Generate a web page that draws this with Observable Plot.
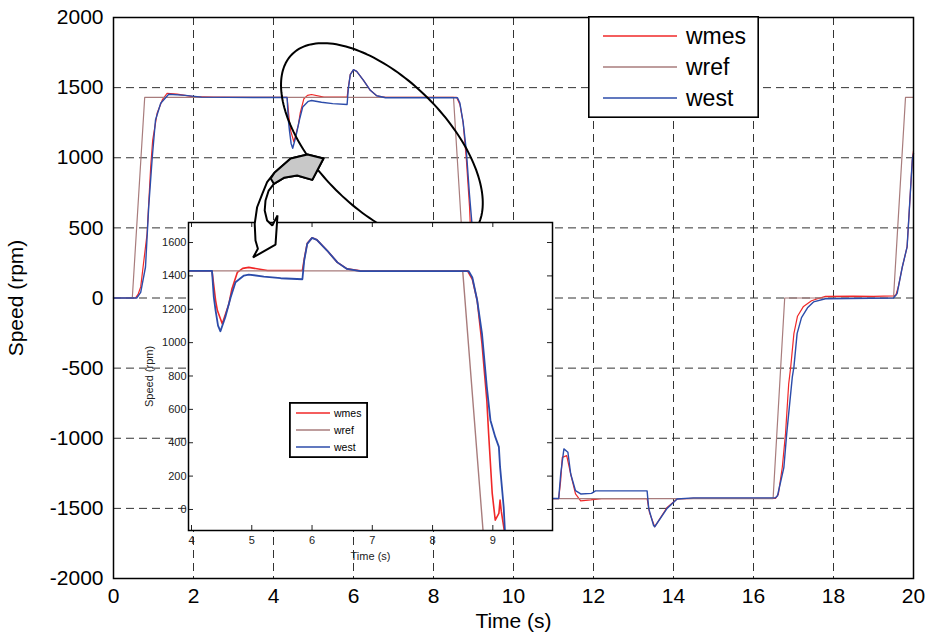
<!DOCTYPE html>
<html><head><meta charset="utf-8">
<script src="https://cdn.jsdelivr.net/npm/d3@7"></script>
<script src="https://cdn.jsdelivr.net/npm/@observablehq/plot@0.6"></script>
<style>
html,body{margin:0;padding:0;background:#fff;}
#wrap{position:relative;width:932px;height:638px;overflow:hidden;font-family:"Liberation Sans",Arial,sans-serif;}
#wrap > *{position:absolute;}
</style></head><body><div id="wrap"></div>
<script>
// ---------- data ----------
const seriesNames = ["wmes", "wref", "west"];
const seriesColors = {wmes: "#f02828", wref: "#a87c7c", west: "#2c4caa"};

const tRef = [0, 0.47, 0.78, 8.50, 9.12, 16.49, 16.78, 19.50, 19.80, 20];
const wref = [0, 0, 1430, 1430, -1430, -1430, 0, 0, 1430, 1430];

const tMes = [0, 0.55, 0.62, 0.68, 0.76, 0.84, 0.93, 0.98, 1.09, 1.22, 1.34, 1.59, 1.98, 2.5, 3.5,
  4.34, 4.40, 4.43, 4.51, 4.62, 4.67, 4.76, 4.85, 4.95, 5.26, 5.5, 5.84,
  5.87, 5.92, 6.00, 6.08, 6.25, 6.42, 6.58, 6.80, 7.5, 8.58,
  8.66, 8.74, 8.82, 8.90, 8.93, 8.99, 9.04, 9.10, 9.12, 9.14, 9.19, 9.30, 9.45, 9.60, 9.80, 10.2,
  11.13, 11.18, 11.22, 11.33, 11.43, 11.55, 11.68, 11.93, 12.2, 13.34,
  13.40, 13.53, 13.84, 14.09, 14.5, 16.55,
  16.62, 16.72, 16.80, 16.88, 16.93, 17.01, 17.10, 17.25, 17.45, 17.60, 17.80, 18.5, 19.0, 19.5,
  19.56, 19.62, 19.72, 19.84, 19.93, 19.97, 20];
const wmes = [0, 0, 30, 79, 269, 460, 936, 1126, 1317, 1412, 1460, 1453, 1436, 1432, 1430,
  1430, 1252, 1192, 1113, 1232, 1322, 1421, 1445, 1451, 1432, 1432, 1432,
  1500, 1595, 1628, 1616, 1552, 1481, 1442, 1430, 1430, 1430,
  1380, 1254, 994, 655, 455, 96, -64, -24, 56, -10, -126, -700, -1200, -1420, -1450, -1430,
  -1430, -1300, -1136, -1124, -1255, -1397, -1446, -1440, -1430, -1430,
  -1530, -1631, -1493, -1433, -1428, -1428,
  -1400, -1207, -969, -612, -493, -254, -130, -60, -20, -5, 12, 14, 12, 15,
  20, 80, 221, 364, 793, 984, 1050];

const tEst = [0, 0.58, 0.68, 0.80, 0.88, 0.97, 1.05, 1.18, 1.38, 1.80, 2.2, 3.5,
  4.34, 4.37, 4.40, 4.44, 4.48, 4.56, 4.65, 4.73, 4.87, 4.95, 5.20, 5.48, 5.84,
  5.87, 5.92, 6.00, 6.08, 6.25, 6.42, 6.58, 6.80, 8.60,
  8.66, 8.74, 8.82, 8.90, 8.96, 9.04, 9.10, 9.12, 9.15, 9.18, 9.20, 9.35, 9.50, 9.65, 9.90, 10.5,
  11.13, 11.18, 11.26, 11.36, 11.43, 11.55, 11.68, 11.95, 12.05, 13.34,
  13.38, 13.50, 13.53, 13.84, 14.09, 14.5, 16.55,
  16.60, 16.76, 16.83, 16.97, 17.01, 17.09, 17.20, 17.35, 17.50, 17.80, 19.5,
  19.59, 19.72, 19.84, 19.93, 19.97, 20];
const west = [0, 0, 40, 221, 650, 1007, 1269, 1389, 1453, 1445, 1432, 1430,
  1430, 1272, 1192, 1102, 1068, 1152, 1272, 1362, 1402, 1408, 1396, 1386, 1380,
  1492, 1592, 1628, 1616, 1552, 1481, 1442, 1428, 1428,
  1390, 1254, 1054, 735, 535, 435, 375, 255, 135, 15, -126, -800, -1250, -1400, -1440, -1430,
  -1430, -1255, -1076, -1100, -1255, -1374, -1397, -1393, -1375, -1375,
  -1500, -1620, -1631, -1500, -1433, -1425, -1425,
  -1410, -1207, -969, -564, -493, -254, -140, -70, -28, -5, 0,
  31, 221, 364, 793, 984, 1030];

const xTicks = [0, 2, 4, 6, 8, 10, 12, 14, 16, 18, 20];
const yTicks = [-2000, -1500, -1000, -500, 0, 500, 1000, 1500, 2000];
const xTicksIn = [4, 5, 6, 7, 8, 9];
const yTicksIn = [0, 200, 400, 600, 800, 1000, 1200, 1400, 1600];

// annotation shapes (main-chart units: s, rpm)
const arrowT = [5.25, 4.85, 4.43, 4.03, 3.84, 3.72, 3.59, 3.53, 3.55, 3.61, 3.49, 4.05, 4.10, 3.97, 3.84, 3.78, 3.80, 3.88, 4.01, 4.26, 4.59, 4.97, 5.25];
const arrowV = [995, 1023, 995, 895, 826, 743, 647, 529, 410, 351, 289, 381, 588, 517, 553, 624, 695, 766, 814, 857, 873, 842, 995];
const grayT = [5.25, 4.85, 4.43, 4.03, 3.93, 4.01, 4.26, 4.59, 4.97, 5.25];
const grayV = [995, 1023, 995, 895, 852, 814, 857, 873, 842, 995];
const ellipseCenter = [6.71, 1098]; // s, rpm
const ellipseAxesPx = [127, 65];     // semi-axes in px
const ellipseAngle = 45;             // degrees

// ---------- layout ----------
const FONT = '"Liberation Sans", Arial, Helvetica, sans-serif';
const W = 932, H = 638, mL = 113, mR = 19, mT = 17, mB = 60;
const xDom = [0, 20], yDom = [-2000, 2000];
const kx = (W - mL - mR) / (xDom[1] - xDom[0]);
const ky = (H - mT - mB) / (yDom[1] - yDom[0]);

const toRows = (ts, vs) => ts.map((t, i) => ({t, v: vs[i]}));
const ref = toRows(tRef, wref), mes = toRows(tMes, wmes), est = toRows(tEst, west);

const ell = [];
{
  const th = ellipseAngle * Math.PI / 180, [a, b] = ellipseAxesPx;
  for (let i = 0; i <= 180; i++) {
    const s = (i / 180) * 2 * Math.PI;
    const dx = a * Math.cos(s) * Math.cos(th) - b * Math.sin(s) * Math.sin(th);
    const dy = a * Math.cos(s) * Math.sin(th) + b * Math.sin(s) * Math.cos(th);
    ell.push({t: ellipseCenter[0] + dx / kx, v: ellipseCenter[1] - dy / ky});
  }
}

const wrap = document.getElementById("wrap");
const dash = "8,5";

const main = Plot.plot({
  width: W, height: H, marginLeft: mL, marginRight: mR, marginTop: mT, marginBottom: mB,
  style: {fontFamily: FONT, background: "white", color: "black"},
  x: {domain: xDom, axis: null},
  y: {domain: yDom, axis: null},
  marks: [
    Plot.ruleX(xTicks.slice(1, -1), {stroke: "#333", strokeDasharray: dash, strokeWidth: 1}),
    Plot.ruleY(yTicks.slice(1, -1), {stroke: "#333", strokeDasharray: dash, strokeWidth: 1}),
    Plot.line(mes, {x: "t", y: "v", stroke: seriesColors.wmes, strokeWidth: 1.2}),
    Plot.line(ref, {x: "t", y: "v", stroke: seriesColors.wref, strokeWidth: 1.2}),
    Plot.line(est, {x: "t", y: "v", stroke: seriesColors.west, strokeWidth: 1.4}),
    Plot.line(ell, {x: "t", y: "v", stroke: "black", strokeWidth: 2}),
    Plot.axisX({ticks: xTicks, tickSize: 0, tickPadding: 10, fontSize: 21, label: null, tickFormat: d => String(d)}),
    Plot.axisY({ticks: yTicks, tickSize: 0, tickPadding: 10, fontSize: 21, label: null, tickFormat: d => String(d)}),
    Plot.text(["Time (s)"], {frameAnchor: "bottom", dy: 43, fontSize: 21, textAnchor: "middle", lineAnchor: "middle", fill: "black"}),
    Plot.text(["Speed (rpm)"], {frameAnchor: "left", dx: -97, rotate: -90, fontSize: 21, textAnchor: "middle", lineAnchor: "middle", fill: "black"}),
    Plot.frame({stroke: "black", strokeWidth: 1.5})
  ]
});
main.style.left = "0px"; main.style.top = "0px";
wrap.appendChild(main);

// legend builder
function legend(x, y, w, h, lx1, lx2, ys, tx, fs, sw) {
  const ns = "http://www.w3.org/2000/svg";
  const svg = document.createElementNS(ns, "svg");
  svg.setAttribute("width", w); svg.setAttribute("height", h);
  svg.style.left = x + "px"; svg.style.top = y + "px";
  const r = document.createElementNS(ns, "rect");
  r.setAttribute("x", sw / 2); r.setAttribute("y", sw / 2);
  r.setAttribute("width", w - sw); r.setAttribute("height", h - sw);
  r.setAttribute("fill", "white"); r.setAttribute("stroke", "black"); r.setAttribute("stroke-width", sw);
  svg.appendChild(r);
  seriesNames.forEach((n, i) => {
    const l = document.createElementNS(ns, "line");
    l.setAttribute("x1", lx1); l.setAttribute("x2", lx2);
    l.setAttribute("y1", ys[i]); l.setAttribute("y2", ys[i]);
    l.setAttribute("stroke", seriesColors[n]); l.setAttribute("stroke-width", 1.3);
    svg.appendChild(l);
    const t = document.createElementNS(ns, "text");
    t.setAttribute("x", tx); t.setAttribute("y", ys[i]);
    t.setAttribute("dy", "0.35em");
    t.setAttribute("font-size", fs); t.setAttribute("font-family", FONT);
    t.textContent = n;
    svg.appendChild(t);
  });
  wrap.appendChild(svg);
}
legend(588, 16, 171, 102, 15, 89, [20, 51, 82], 98, 23, 1.6);

// ---------- inset ----------
const iLeft = 140, iTop = 212, iW = 420, iH = 360;
const imL = 48, imR = 8, imT = 10, imB = 42;
const xDomIn = [3.95, 9.99], yDomIn = [-126, 1720];
const ikx = (iW - imL - imR) / (xDomIn[1] - xDomIn[0]);
const iky = (iH - imT - imB) / (yDomIn[1] - yDomIn[0]);
const tk = 5;

const inset = Plot.plot({
  width: iW, height: iH, marginLeft: imL, marginRight: imR, marginTop: imT, marginBottom: imB,
  style: {fontFamily: FONT, background: "transparent", color: "#222", overflow: "visible"},
  x: {domain: xDomIn, axis: null},
  y: {domain: yDomIn, axis: null},
  marks: [
    Plot.frame({fill: "white"}),
    Plot.line(mes, {x: "t", y: "v", stroke: seriesColors.wmes, strokeWidth: 1.6, clip: true}),
    Plot.line(ref, {x: "t", y: "v", stroke: seriesColors.wref, strokeWidth: 1.4, clip: true}),
    Plot.line(est, {x: "t", y: "v", stroke: seriesColors.west, strokeWidth: 1.8, clip: true}),
    Plot.ruleY(yTicksIn, {y: d => d, x1: xDomIn[0], x2: xDomIn[0] + tk / ikx, stroke: "#222"}),
    Plot.ruleY(yTicksIn, {y: d => d, x1: xDomIn[1] - tk / ikx, x2: xDomIn[1], stroke: "#222"}),
    Plot.ruleX(xTicksIn, {x: d => d, y1: yDomIn[0], y2: yDomIn[0] + tk / iky, stroke: "#222"}),
    Plot.ruleX(xTicksIn, {x: d => d, y1: yDomIn[1] - tk / iky, y2: yDomIn[1], stroke: "#222"}),
    Plot.axisX({ticks: xTicksIn, tickSize: 0, tickPadding: 6, fontSize: 11, label: null, tickFormat: d => String(d)}),
    Plot.axisY({ticks: yTicksIn, tickSize: 0, tickPadding: 2, fontSize: 11, label: null, tickFormat: d => String(d)}),
    Plot.text(["Time (s)"], {frameAnchor: "bottom", dy: 26, fontSize: 11, textAnchor: "middle", lineAnchor: "middle", fill: "#222"}),
    Plot.text(["Speed (rpm)"], {frameAnchor: "left", dx: -39, rotate: -90, fontSize: 11, textAnchor: "middle", lineAnchor: "middle", fill: "#222"}),
    Plot.frame({stroke: "black", strokeWidth: 1.5})
  ]
});
inset.style.left = iLeft + "px"; inset.style.top = iTop + "px";
wrap.appendChild(inset);

legend(289, 402, 79, 56, 7, 41, [11, 28, 45], 45, 10.5, 1.8);

// ---------- arrow overlay (main-chart units) ----------
const overlay = Plot.plot({
  width: W, height: H, marginLeft: mL, marginRight: mR, marginTop: mT, marginBottom: mB,
  style: {background: "transparent", pointerEvents: "none"},
  x: {domain: xDom, axis: null},
  y: {domain: yDom, axis: null},
  marks: [
    Plot.line(toRows(arrowT, arrowV), {x: "t", y: "v", fill: "white", stroke: "black", strokeWidth: 2, strokeLinejoin: "miter"}),
    Plot.line(toRows(grayT, grayV), {x: "t", y: "v", fill: "#c8c8c8", stroke: "black", strokeWidth: 2})
  ]
});
overlay.style.left = "0px"; overlay.style.top = "0px";
wrap.appendChild(overlay);
</script>
</body></html>
